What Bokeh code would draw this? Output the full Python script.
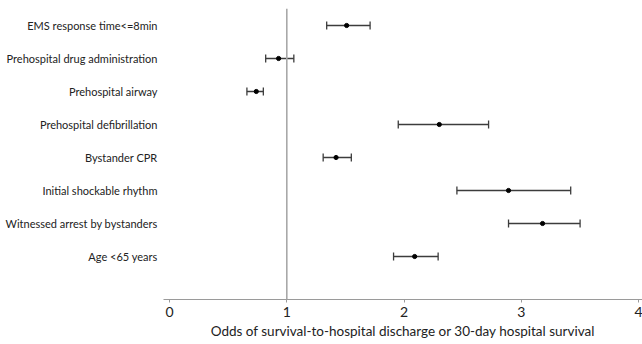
from math import pi
from bokeh.plotting import figure
from bokeh.models import ColumnDataSource, FixedTicker, Span
from bokeh.embed import file_html
from bokeh.resources import INLINE

# ---- data ----
factors = [
    "EMS response time<=8min",
    "Prehospital drug administration",
    "Prehospital airway",
    "Prehospital defibrillation",
    "Bystander CPR",
    "Initial shockable rhythm",
    "Witnessed arrest by bystanders",
    "Age <65 years",
]
odds  = [1.51, 0.93, 0.74, 2.30, 1.42, 2.89, 3.18, 2.09]
lower = [1.34, 0.82, 0.66, 1.95, 1.31, 2.45, 2.89, 1.91]
upper = [1.71, 1.06, 0.80, 2.72, 1.55, 3.42, 3.50, 2.29]
x_ticks = [0, 1, 2, 3, 4]
ref_value = 1
x_title = "Odds of survival-to-hospital discharge or 30-day hospital survival"

n = len(factors)
ypos = [n - i for i in range(n)]  # top row highest

src = ColumnDataSource(dict(y=ypos, odds=odds, lo=lower, hi=upper))

FONT = "Lato"

p = figure(
    frame_width=479, frame_height=291,
    x_range=(-0.051, 4.032), y_range=(-0.303, 8.515),
    output_backend="svg", toolbar_location=None,
    min_border_left=163, min_border_right=0, min_border_top=8, min_border_bottom=0,
)
p.outline_line_color = None
p.xgrid.visible = False
p.ygrid.visible = False

# reference line
p.add_layout(Span(location=ref_value, dimension="height",
                  line_color="#a8a8a8", line_width=1.6))

# CI lines and caps
p.segment(x0="lo", y0="y", x1="hi", y1="y", source=src,
          line_color="#3c3c3c", line_width=1.3)
p.scatter(x="lo", y="y", source=src, marker="dash", angle=pi / 2, size=8,
          line_color="#3c3c3c", line_width=1.3)
p.scatter(x="hi", y="y", source=src, marker="dash", angle=pi / 2, size=8,
          line_color="#3c3c3c", line_width=1.3)
# point estimates
p.scatter(x="odds", y="y", source=src, size=4.2, color="black")

# x axis
xa = p.xaxis[0]
xa.ticker = FixedTicker(ticks=x_ticks)
xa.axis_line_color = "#9a9a9a"
xa.axis_line_width = 1.2
xa.major_tick_line_color = "#9a9a9a"
xa.major_tick_out = 3
xa.major_tick_in = 0
xa.minor_tick_line_color = None
xa.major_label_text_font = FONT
xa.major_label_text_font_size = "14px"
xa.major_label_text_color = "#222222"
xa.major_label_standoff = 4
xa.axis_label = x_title
xa.axis_label_text_font = FONT
xa.axis_label_text_font_size = "13.5px"
xa.axis_label_text_font_style = "normal"
xa.axis_label_text_color = "#222222"
xa.axis_label_standoff = 3

# y axis: labels only
ya = p.yaxis[0]
ya.ticker = FixedTicker(ticks=ypos)
ya.major_label_overrides = {y: f for y, f in zip(ypos, factors)}
ya.axis_line_color = None
ya.major_tick_line_color = None
ya.minor_tick_line_color = None
ya.major_tick_out = 0
ya.major_tick_in = 0
ya.major_label_standoff = 6
ya.major_label_text_font = FONT
ya.major_label_text_font_size = "11px"
ya.major_label_text_color = "#222222"

open("out.html", "w").write(file_html(p, INLINE))
